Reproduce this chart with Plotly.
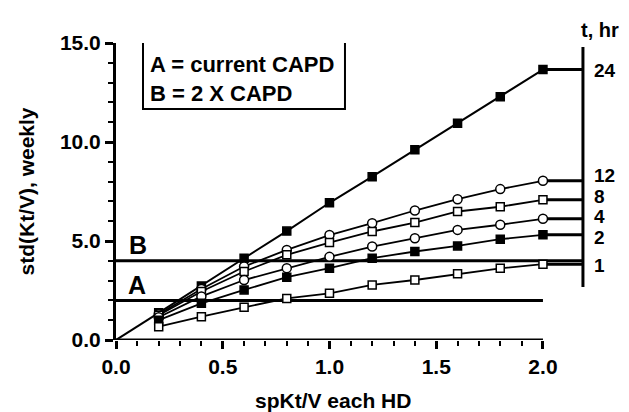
import plotly.graph_objects as go

# ---------------- data ----------------
x_vals = [0.2, 0.4, 0.6, 0.8, 1.0, 1.2, 1.4, 1.6, 1.8, 2.0]
t_labels = ["24", "12", "8", "4", "2", "1"]
std_24 = [1.37, 2.73, 4.13, 5.50, 6.93, 8.25, 9.61, 10.95, 12.29, 13.66]
std_12 = [1.30, 2.58, 3.71, 4.55, 5.30, 5.90, 6.54, 7.11, 7.62, 8.04]
std_8 = [1.25, 2.45, 3.46, 4.30, 4.92, 5.48, 5.93, 6.49, 6.73, 7.08]
std_4 = [1.15, 2.20, 3.03, 3.63, 4.20, 4.72, 5.14, 5.56, 5.82, 6.12]
std_2 = [1.00, 1.85, 2.53, 3.17, 3.63, 4.13, 4.47, 4.75, 5.09, 5.31]
std_1 = [0.67, 1.18, 1.65, 2.10, 2.36, 2.78, 3.03, 3.34, 3.62, 3.83]
origin = [0.0, 0.0]
ref_names = ["A", "B"]
ref_levels = [2.0, 4.0]
legend_lines = ["A = current CAPD", "B = 2 X CAPD"]
x_ticks = [0.0, 0.5, 1.0, 1.5, 2.0]
y_ticks = [0.0, 5.0, 10.0, 15.0]

series = [std_24, std_12, std_8, std_4, std_2, std_1]

# ---------------- layout geometry (pixels -> data / paper) ----------------
L, T, B = 116, 43, 72
PXX = 213.5
XMAX = 2.3
W, H = 629, 412
R = W - L - round(XMAX * PXX)
PW = W - L - R
PH = H - T - B
PXY = PH / 15.0


def fx(px):
    return (px - L) / PXX


def fy(py):
    return (H - B - py) / PXY


def paper_x(px):
    return (px - L) / PW


def paper_y(py):
    return (H - B - py) / PH


RIGHT_X = fx(583)
FONT = "Liberation Sans, Arial, sans-serif"

styles = {
    "24": dict(symbol="square", color="black", size=8),
    "12": dict(symbol="circle", color="white", size=9),
    "8": dict(symbol="square", color="white", size=8),
    "4": dict(symbol="circle", color="white", size=9),
    "2": dict(symbol="square", color="black", size=8),
    "1": dict(symbol="square", color="white", size=8),
}

fig = go.Figure()

# reference lines A and B
ref_ends = [x_vals[-1], RIGHT_X]
for name, lvl, xe in zip(ref_names, ref_levels, ref_ends):
    fig.add_trace(go.Scatter(x=[0.0, xe], y=[lvl, lvl], mode="lines",
                             line=dict(color="black", width=3),
                             showlegend=False, hoverinfo="skip"))

for lab, ys in zip(t_labels, series):
    st = styles[lab]
    if lab == "24":
        fig.add_trace(go.Scatter(x=[origin[0], x_vals[0]], y=[origin[1], ys[0]],
                                 mode="lines", line=dict(color="black", width=2),
                                 showlegend=False))
    # tail to the right bar
    fig.add_trace(go.Scatter(x=[x_vals[-1], RIGHT_X], y=[ys[-1], ys[-1]],
                             mode="lines", line=dict(color="black", width=3),
                             showlegend=False))
    fig.add_trace(go.Scatter(
        x=x_vals, y=ys, mode="lines+markers", name=lab,
        line=dict(color="black", width=1.8 if lab != "24" else 2),
        marker=dict(symbol=st["symbol"], size=st["size"], color=st["color"],
                    line=dict(color="black", width=1.5)),
        showlegend=False, cliponaxis=False))

shapes = [
    # x axis line (only to 2.0)
    dict(type="line", xref="x", yref="y", x0=0, x1=2.0, y0=0, y1=0,
         line=dict(color="black", width=3)),
    # right bar
    dict(type="line", xref="x", yref="y", x0=RIGHT_X, x1=RIGHT_X,
         y0=fy(287), y1=fy(47), line=dict(color="black", width=3)),
    # legend box
    dict(type="rect", xref="x", yref="y", x0=fx(143), x1=fx(345),
         y0=fy(109), y1=fy(40), line=dict(color="black", width=2),
         fillcolor="white"),
]

annotations = []
for txt, py in zip(legend_lines, [64, 93]):
    annotations.append(dict(x=fx(148), y=fy(py), xref="x", yref="y", text=txt,
                            showarrow=False, xanchor="left", yanchor="middle",
                            font=dict(family=FONT, size=22, color="black", weight="bold")))
for name, (px, py) in zip(ref_names, [(137, 285), (138, 245)]):
    annotations.append(dict(x=fx(px), y=fy(py), xref="x", yref="y", text=name,
                            showarrow=False, xanchor="center", yanchor="middle",
                            font=dict(family=FONT, size=25, color="black", weight="bold")))
label_py = [70, 175, 196.5, 216.5, 237, 265]
for lab, py in zip(t_labels, label_py):
    annotations.append(dict(x=fx(592), y=fy(py), xref="x", yref="y", text=lab,
                            showarrow=False, xanchor="left", yanchor="middle",
                            font=dict(family=FONT, size=19, color="black", weight="bold")))
annotations.append(dict(x=paper_x(600), y=paper_y(30), xref="paper", yref="paper",
                        text="t, hr", showarrow=False, xanchor="center", yanchor="middle",
                        font=dict(family=FONT, size=20, color="black", weight="bold")))
annotations.append(dict(x=paper_x(333), y=paper_y(400), xref="paper", yref="paper",
                        text="spKt/V each HD", showarrow=False,
                        xanchor="center", yanchor="middle",
                        font=dict(family=FONT, size=21, color="black", weight="bold")))
annotations.append(dict(x=paper_x(26), y=paper_y(191.5), xref="paper", yref="paper",
                        text="std(Kt/V), weekly", showarrow=False,
                        xanchor="center", yanchor="middle", textangle=-90,
                        font=dict(family=FONT, size=21, color="black", weight="bold")))

tickfont = dict(family=FONT, size=21, color="black", weight="bold")
fig.update_layout(
    width=W, height=H,
    margin=dict(l=L, r=R, t=T, b=B, pad=0),
    paper_bgcolor="white", plot_bgcolor="white",
    showlegend=False,
    shapes=shapes, annotations=annotations,
    xaxis=dict(range=[0, XMAX], showgrid=False, zeroline=False, showline=False,
               tickmode="array", tickvals=x_ticks, ticktext=[f"{v:.1f}" for v in x_ticks],
               ticks="outside", ticklen=8, tickwidth=3, tickcolor="black",
               tickfont=tickfont,
               minor=dict(tickmode="array",
                          tickvals=[round(i * 0.1, 1) for i in range(1, 20) if i % 5],
                          ticks="outside", ticklen=5, tickwidth=2, tickcolor="black",
                          showgrid=False)),
    yaxis=dict(range=[0, 15], showgrid=False, zeroline=False, showline=True,
               linecolor="black", linewidth=3,
               tickmode="array", tickvals=y_ticks, ticktext=[f"{v:.1f}" for v in y_ticks],
               ticks="outside", ticklen=8, tickwidth=3, tickcolor="black",
               tickfont=tickfont,
               minor=dict(tickmode="array",
                          tickvals=[v for v in range(1, 15) if v % 5],
                          ticks="outside", ticklen=5, tickwidth=2, tickcolor="black",
                          showgrid=False)),
)

fig.write_html("out.html")
